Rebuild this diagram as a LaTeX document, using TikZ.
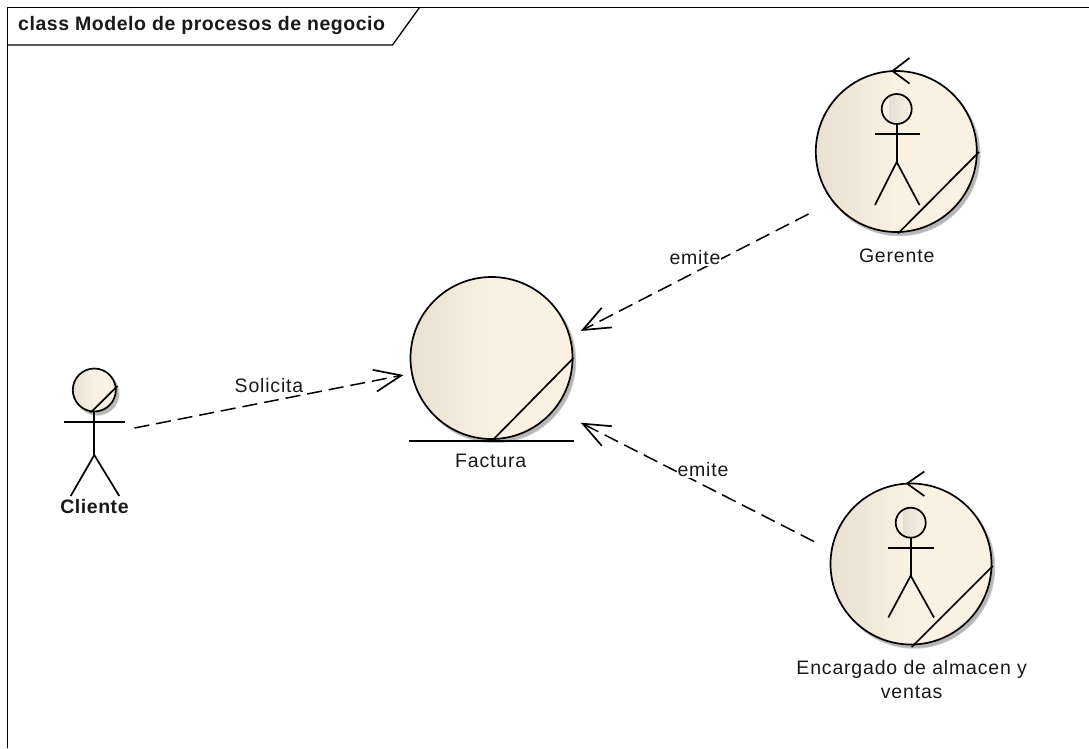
\documentclass[tikz,border=0pt]{standalone}
\usepackage{fontspec}
\setmainfont{Liberation Sans}
\newfontfamily\lblf[LetterSpace=4.2]{Liberation Sans}
\newfontfamily\bldf[LetterSpace=2.8]{Liberation Sans}
\usetikzlibrary{arrows.meta,calc}
\definecolor{grL}{HTML}{E9E0D2}
\definecolor{grM}{HTML}{FAF1E3}
\definecolor{grD}{HTML}{DFD8CC}
\tikzset{
  ln/.style={line width=1.7pt,black},
  ball/.style={circle,draw=black,line width=1.7pt,inner sep=0pt,outer sep=0pt,left color=grL,right color=grM,middle color=grM},
  headball/.style={circle,draw=black,line width=1.7pt,inner sep=0pt,outer sep=0pt,minimum size=30pt,fill=grM,
    path picture={\fill[left color=grD,right color=grM] ($(path picture bounding box.south)+(-7,0)$) rectangle (path picture bounding box.north east);}},
  shad/.style={circle,inner sep=0pt,fill=black!40,fill opacity=.45,draw=none},
  lbl/.style={font=\lblf\fontsize{19.5}{24}\selectfont,text=black!90,align=center},
  boldlbl/.style={font=\bfseries\bldf\fontsize{19.5}{24}\selectfont,text=black!90},
  flow/.style={line width=1.5pt,black,dash pattern=on 15pt off 7pt,-{Straight Barb[length=27pt,width=22pt,line width=1.7pt]}},
  edgelbl/.style={lbl,fill=white,inner sep=1pt},
}
\newcommand{\shadowball}[2]{%
  \node[shad,minimum size=#2] at ($(#1)+(3,3.5)$) {};
  \node[shad,minimum size=#2+1.5pt] at ($(#1)+(3,3.5)$) {};
}
\begin{document}
\begin{tikzpicture}[x=1pt,y=-1pt]
\useasboundingbox (0,0) rectangle (1089,748);
\fill[white] (0,0) rectangle (1089,748);
% frame
\coordinate (ftl) at (7.5,7.5);
\coordinate (ftr) at (1089,7.5);
\coordinate (fbl) at (7.5,748);
\coordinate (tabb) at (392.5,45);
\coordinate (tabl) at (7.5,45);
\coordinate (tabt) at (419.5,7.5);
\draw[line width=1.3pt] (fbl) -- (ftl) -- (ftr);
\draw[line width=1.3pt] (tabl) -- (tabb) -- (tabt);
\node[anchor=west,inner sep=0pt,boldlbl] (title) at (18,25.7) {class Modelo de procesos de negocio};

% Factura
\shadowball{491.5,358}{162pt}
\node[ball,minimum size=162pt] (fac) at (491.5,358) {};
\coordinate (facA) at (493.3,439.5);
\coordinate (facB) at (573.5,358);
\draw[ln] (facA) -- (facB);
\coordinate (facL) at (409.3,440.7);
\coordinate (facR) at (574.3,440.7);
\draw[ln] (facL) -- (facR);
\node[lbl] (facl) at (490.7,461) {Factura};

% Gerente
\shadowball{896.3,151.5}{161pt}
\node[ball,minimum size=161pt] (ger) at (896.3,151.5) {};
\coordinate (gerA) at (898,233.5);
\coordinate (gerB) at (979,152);
\draw[ln] (gerA) -- (gerB);
\coordinate (gerT) at (892.5,71);
\coordinate (gerU) at (909.5,58);
\coordinate (gerV) at (909.5,83.5);
\draw[ln] (gerU) -- (gerT) -- (gerV);
\node[headball] (gerh) at (896.7,109) {};
\coordinate (gerN) at (896.7,162);
\coordinate (gerP) at (875,134.3);
\coordinate (gerQ) at (920,134.3);
\coordinate (gerF) at (875,205);
\coordinate (gerG) at (919.5,205);
\draw[ln] (gerh.south) -- (gerN);
\draw[ln] (gerP) -- (gerQ);
\draw[ln] (gerF) -- (gerN) -- (gerG);
\node[lbl] (gerl) at (896.7,255.5) {Gerente};

% Encargado
\shadowball{911,564}{161pt}
\node[ball,minimum size=161pt] (enc) at (911,564) {};
\coordinate (encA) at (911.7,647);
\coordinate (encB) at (992.7,566);
\draw[ln] (encA) -- (encB);
\coordinate (encT) at (907,483.5);
\coordinate (encU) at (924.3,471.5);
\coordinate (encV) at (924.3,496);
\draw[ln] (encU) -- (encT) -- (encV);
\node[headball] (ench) at (910.7,522.7) {};
\coordinate (encN) at (910.7,575.7);
\coordinate (encP) at (888,547.7);
\coordinate (encQ) at (934,547.7);
\coordinate (encF) at (888.3,617.5);
\coordinate (encG) at (934,617.5);
\draw[ln] (ench.south) -- (encN);
\draw[ln] (encP) -- (encQ);
\draw[ln] (encF) -- (encN) -- (encG);
\node[lbl] (encl) at (911.7,680) {Encargado de almacen y\\ventas};

% Cliente
\shadowball{94.3,390}{43pt}
\node[ball,minimum size=43pt] (cli) at (94.3,390) {};
\coordinate (cliA) at (90.7,412.5);
\coordinate (cliB) at (117.5,386);
\draw[ln] (cliA) -- (cliB);
\coordinate (cliN) at (94.3,455);
\coordinate (cliP) at (64,422.3);
\coordinate (cliQ) at (125.3,422.3);
\coordinate (cliF) at (70.7,496);
\coordinate (cliG) at (119.3,496);
\draw[ln] (cli.south) -- (cliN);
\draw[ln] (cliP) -- (cliQ);
\draw[ln] (cliF) -- (cliN) -- (cliG);
\node[boldlbl] (clil) at (94.5,507) {Cliente};

% connectors
\coordinate (s1) at (134.5,428);
\coordinate (s2) at (403.5,375);
\draw[flow] (s1) -- (s2);
\coordinate (e1a) at (808.5,214);
\coordinate (e1b) at (580.7,331);
\draw[flow] (e1a) -- (e1b);
\coordinate (e2a) at (814,541.5);
\coordinate (e2b) at (580.7,422.7);
\draw[flow] (e2a) -- (e2b);
\node[edgelbl] (sol) at (269,385.5) {Solicita};
\node[edgelbl] (em1) at (695,257.7) {emite};
\node[edgelbl] (em2) at (703,470) {emite};
\end{tikzpicture}
\end{document}
